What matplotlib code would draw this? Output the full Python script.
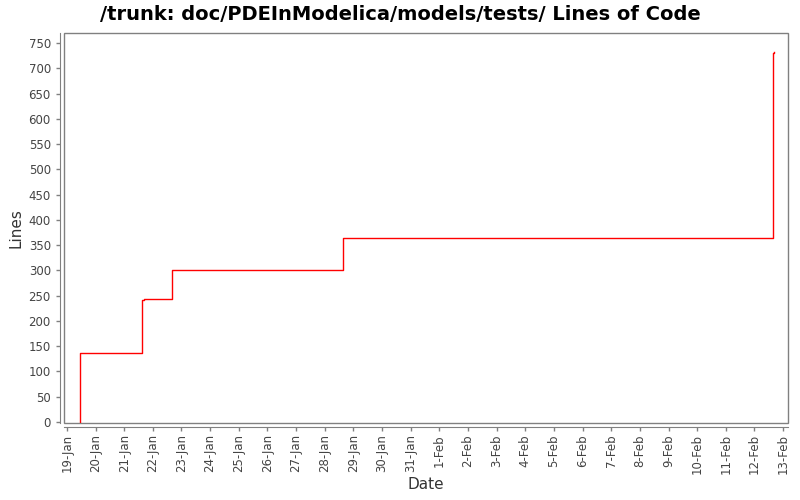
import matplotlib
matplotlib.use('Agg')
import matplotlib.pyplot as plt
import matplotlib.dates as mdates
from matplotlib.patches import Rectangle
from datetime import datetime, timedelta

# Lines of code over time (step series)
dates = [
    datetime(2010, 1, 19, 11, 0),
    datetime(2010, 1, 19, 11, 1),
    datetime(2010, 1, 21, 15, 0),
    datetime(2010, 1, 21, 17, 0),
    datetime(2010, 1, 22, 16, 0),
    datetime(2010, 1, 28, 15, 20),
    datetime(2010, 2, 12, 15, 40),
    datetime(2010, 2, 12, 16, 30),
]
lines = [0, 137, 241, 243, 301, 364, 731, 733]

title = '/trunk: doc/PDEInModelica/models/tests/ Lines of Code'
x_label = 'Date'
y_label = 'Lines'

plt.rcParams['font.family'] = 'DejaVu Sans'

fig = plt.figure(figsize=(8, 5), dpi=100)
ax = fig.add_axes([64 / 800, 1 - 423 / 500, 724 / 800, 390 / 500])

ax.plot(dates, lines, color='red', linewidth=1, drawstyle='steps-post')

start = datetime(2010, 1, 19)
ax.set_xlim(start - timedelta(hours=2.4), start + timedelta(days=25.17))
ax.set_ylim(-2, 770)

ax.xaxis.set_major_locator(mdates.DayLocator())
ax.xaxis.set_major_formatter(mdates.DateFormatter('%-d-%b'))
ax.set_yticks(range(0, 751, 50))

gray = '#808080'
for side in ['top', 'right']:
    ax.spines[side].set_visible(False)
for side in ['left', 'bottom']:
    ax.spines[side].set_color(gray)
    ax.spines[side].set_position(('outward', 3))
ax.add_patch(Rectangle((0, 0), 1, 1, transform=ax.transAxes, fill=False,
                       edgecolor=gray, linewidth=1, clip_on=False))

ax.tick_params(axis='both', colors=gray, labelcolor='#444444', labelsize=8.5,
               length=3, width=1, direction='out')
ax.tick_params(axis='x', pad=2, labelrotation=90)

ax.set_xlabel(x_label, fontsize=11, color='#333333', labelpad=2)
ax.set_ylabel(y_label, fontsize=11, color='#333333', labelpad=4)
fig.suptitle(title, fontsize=14, fontweight='bold', y=0.99)

fig.savefig('out.png', dpi=100)
